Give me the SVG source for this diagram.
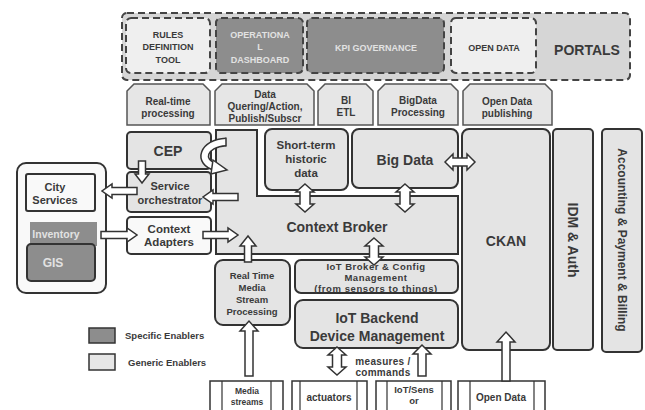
<svg xmlns="http://www.w3.org/2000/svg" width="645" height="410" viewBox="0 0 645 410">
  <style>
    text { font-family: "Liberation Sans", Arial, sans-serif; font-weight: bold; fill: #3a3a3a; text-anchor: middle; }
    text.start { text-anchor: start; }
    .box { fill: #e4e4e4; stroke: #333; stroke-width: 2; }
    .white { fill: #f9f9f9; stroke: #333; stroke-width: 2; }
    .spec { fill: #8d8d8d; stroke: #333; stroke-width: 2; }
    .tab { fill: #e6e6e6; stroke: #555; stroke-width: 1.5; }
    .dash { stroke: #444; stroke-width: 2; stroke-dasharray: 7 4; }
    .arrow { fill: #fff; stroke: #333; stroke-width: 1.5; stroke-linejoin: miter; }
    .src { fill: #fff; stroke: #333; stroke-width: 1.5; }
    .light { fill: #e2e2e2; }
    .p9 { font-size: 9px; }
    .t10 { font-size: 10px; }
    .s11 { font-size: 11px; }
    .s14 { font-size: 14px; }
  </style>

  <!-- Portals layer -->
  <g id="portals">
    <rect x="122" y="13" width="508" height="67" rx="5" fill="#d6d6d6" class="dash"/>
    <text x="587" y="55" font-size="14">PORTALS</text>
  </g>
  <g id="rules-definition-tool">
    <rect x="126" y="18" width="84" height="55" rx="5" fill="#efefef" class="dash"/>
    <text class="p9" x="168" y="38">RULES</text>
    <text class="p9" x="168" y="50">DEFINITION</text>
    <text class="p9" x="168" y="63">TOOL</text>
  </g>
  <g id="operational-dashboard">
    <rect x="216" y="18" width="87" height="55" rx="5" fill="#8d8d8d" class="dash"/>
    <text class="p9 light" x="260" y="38">OPERATIONA</text>
    <text class="p9 light" x="260" y="50">L</text>
    <text class="p9 light" x="260" y="63">DASHBOARD</text>
  </g>
  <g id="kpi-governance">
    <rect x="307" y="18" width="137" height="55" rx="5" fill="#8d8d8d" class="dash"/>
    <text class="p9 light" x="376" y="51">KPI GOVERNANCE</text>
  </g>
  <g id="open-data-portal">
    <rect x="451" y="18" width="85" height="55" rx="5" fill="#efefef" class="dash"/>
    <text class="p9" x="494" y="51">OPEN DATA</text>
  </g>

  <!-- Processing tabs -->
  <g id="realtime-processing">
    <path class="tab" d="M127,125 V91 L134,84 H203 L210,91 V125 Z"/>
    <text class="t10" x="168" y="105">Real-time</text>
    <text class="t10" x="168" y="117">processing</text>
  </g>
  <g id="data-querying">
    <path class="tab" d="M215,125 V91 L222,84 H307 L314,91 V125 Z"/>
    <text class="t10" x="265" y="98">Data</text>
    <text class="t10" x="265" y="110">Quering/Action,</text>
    <text class="t10" x="265" y="122">Publish/Subscr</text>
  </g>
  <g id="bi-etl">
    <path class="tab" d="M318,125 V91 L325,84 H366 L373,91 V125 Z"/>
    <text class="t10" x="346" y="104">BI</text>
    <text class="t10" x="346" y="116">ETL</text>
  </g>
  <g id="bigdata-processing">
    <path class="tab" d="M378,125 V91 L385,84 H451 L458,91 V125 Z"/>
    <text class="t10" x="418" y="104">BigData</text>
    <text class="t10" x="418" y="116">Processing</text>
  </g>
  <g id="open-data-publishing">
    <path class="tab" d="M463,125 V91 L470,84 H545 L552,91 V125 Z"/>
    <text class="t10" x="507" y="105">Open Data</text>
    <text class="t10" x="507" y="117">publishing</text>
  </g>

  <!-- Core enablers -->
  <g id="context-broker">
    <path class="box" d="M216,130 H257 V196 H458 V254 H216 Z"/>
    <text class="s14" x="337" y="232">Context Broker</text>
  </g>
  <g id="short-term-historic">
    <rect class="box" x="265" y="129" width="83" height="61" rx="7"/>
    <text font-size="11.5" x="306" y="149">Short-term</text>
    <text font-size="11.5" x="306" y="163">historic</text>
    <text font-size="11.5" x="306" y="177">data</text>
  </g>
  <g id="big-data">
    <rect class="box" x="352" y="129" width="106" height="59" rx="7"/>
    <text class="s14" x="405" y="165">Big Data</text>
  </g>
  <g id="cep">
    <rect class="box" x="127" y="132" width="84" height="37" rx="4"/>
    <text class="s14" x="168" y="156">CEP</text>
  </g>
  <g id="service-orchestrator">
    <rect class="box" x="127" y="172" width="84" height="40" rx="4"/>
    <text class="s11" x="170" y="190">Service</text>
    <text class="s11" x="170" y="204">orchestrator</text>
  </g>
  <g id="context-adapters">
    <rect class="white" x="127" y="217" width="84" height="37" rx="4"/>
    <text font-size="11.5" x="169" y="233">Context</text>
    <text font-size="11.5" x="169" y="246">Adapters</text>
  </g>
  <g id="city-systems">
    <rect class="white" x="17" y="163" width="89" height="130" rx="9"/>
  </g>
  <g id="city-services">
    <rect class="white" x="26" y="174" width="69" height="37" rx="2"/>
    <text class="s11" x="55" y="191">City</text>
    <text class="s11" x="55" y="204">Services</text>
  </g>
  <g id="inventory">
    <rect x="30" y="222" width="67" height="24" fill="#8d8d8d"/>
    <text font-size="10.5" class="light" x="56" y="238">Inventory</text>
  </g>
  <g id="gis">
    <rect class="spec" x="27" y="244" width="68" height="37" rx="4"/>
    <text font-size="12" class="light" x="53" y="267">GIS</text>
  </g>
  <g id="rt-media-stream">
    <rect class="box" x="215" y="260" width="75" height="65" rx="8"/>
    <text font-size="9.5" x="252" y="279">Real Time</text>
    <text font-size="9.5" x="252" y="291">Media</text>
    <text font-size="9.5" x="252" y="303">Stream</text>
    <text font-size="9.5" x="252" y="315">Processing</text>
  </g>
  <g id="iot-broker">
    <rect class="box" x="295" y="260" width="163" height="33" rx="6"/>
    <text x="376" y="270" font-size="9.5" font-weight="normal" letter-spacing="0.5">IoT Broker &amp; Config</text>
    <text x="376" y="281" font-size="9.5" font-weight="normal" letter-spacing="0.5">Management</text>
    <text x="376" y="292" font-size="9.5" font-weight="normal" letter-spacing="0.6">(from sensors to things)</text>
  </g>
  <g id="iot-backend">
    <rect class="box" x="295" y="300" width="163" height="48" rx="8"/>
    <text class="s14" x="377" y="323">IoT Backend</text>
    <text class="s14" x="377" y="341">Device Management</text>
  </g>
  <g id="ckan">
    <rect class="box" x="462" y="129" width="88" height="221" rx="7"/>
    <text class="s14" x="506" y="246">CKAN</text>
  </g>
  <g id="idm-auth">
    <rect class="box" x="553" y="129" width="40" height="221" rx="4"/>
    <text class="s14" transform="translate(568,240) rotate(90)">IDM &amp; Auth</text>
  </g>
  <g id="accounting">
    <rect class="box" x="602" y="129" width="40" height="223" rx="4"/>
    <text font-size="12" transform="translate(618,240) rotate(90)">Accounting &amp; Payment &amp; Billing</text>
  </g>

  <!-- Data sources -->
  <g id="media-streams">
    <rect class="src" x="210" y="381" width="73" height="32"/>
    <path d="M222,381 V413 M271,381 V413" stroke="#333" stroke-width="1.2"/>
    <text font-size="8.5" x="247" y="394">Media</text>
    <text font-size="8.5" x="247" y="405">streams</text>
  </g>
  <g id="actuators">
    <rect class="src" x="292" y="381" width="75" height="32"/>
    <path d="M300,381 V413 M357,381 V413" stroke="#333" stroke-width="1.2"/>
    <text class="t10" x="329" y="401">actuators</text>
  </g>
  <g id="iot-sensor">
    <rect class="src" x="376" y="381" width="75" height="32"/>
    <path d="M387,381 V413 M442,381 V413" stroke="#333" stroke-width="1.2"/>
    <text font-size="9.5" x="414" y="393">IoT/Sens</text>
    <text font-size="9.5" x="414" y="404">or</text>
  </g>
  <g id="open-data-source">
    <rect class="src" x="458" y="381" width="87" height="32"/>
    <path d="M470,381 V413 M534,381 V413" stroke="#333" stroke-width="1.2"/>
    <text class="t10" x="501" y="401">Open Data</text>
  </g>

  <!-- Legend -->
  <g id="legend">
    <rect x="89" y="328" width="26" height="15" fill="#8d8d8d" stroke="#333" stroke-width="1.5"/>
    <text class="start" font-size="9.5" x="125" y="339">Specific Enablers</text>
    <rect x="89" y="354" width="26" height="16" fill="#e6e6e6" stroke="#333" stroke-width="1.5"/>
    <text class="start" font-size="9.5" x="128" y="366">Generic Enablers</text>
  </g>

  <!-- Connectors -->
  <g id="connectors">
    <!-- CEP loop back into the broker -->
    <path d="M226,142 C203,143 197,162 216,167" fill="none" stroke="#333" stroke-width="9"/>
    <path d="M226,142 C203,143 197,162 216,167" fill="none" stroke="#fff" stroke-width="6"/>
    <polygon class="arrow" points="213,160 227,170 211,174"/>
    <line x1="226" y1="137.5" x2="226" y2="146.5" stroke="#333" stroke-width="1.5"/>
    <!-- CEP to orchestrator -->
    <polygon class="arrow" points="138.5,161 145.5,161 145.5,174 149,174 142,183 135,174 138.5,174"/>
    <!-- orchestrator to city services -->
    <polygon class="arrow" points="137,187.5 112,187.5 112,184 102,191 112,198 112,194.5 137,194.5"/>
    <!-- broker to orchestrator -->
    <polygon class="arrow" points="238,193.5 213,193.5 213,190 203,197 213,204 213,200.5 238,200.5"/>
    <!-- city systems to context adapters -->
    <polygon class="arrow" points="101,231.5 127,231.5 127,228 137,235 127,242 127,238.5 101,238.5"/>
    <!-- context adapters to broker -->
    <polygon class="arrow" points="203,231.5 228,231.5 228,228 238,235 228,242 228,238.5 203,238.5"/>
    <!-- media processing to broker -->
    <polygon class="arrow" points="244.5,262 244.5,246 240,246 248,236 256,246 251.5,246 251.5,262"/>
    <!-- media streams to media processing -->
    <polygon class="arrow" points="245,376 245,331 240,331 249,321 258,331 253,331 253,376"/>
    <!-- short-term data <-> broker -->
    <polygon class="arrow" points="305,184 314,192 310,192 310,204 314,204 305,212 296,204 300,204 300,192 296,192"/>
    <!-- big data <-> broker -->
    <polygon class="arrow" points="405,184 414,192 410,192 410,204 414,204 405,212 396,204 400,204 400,192 396,192"/>
    <!-- big data <-> CKAN -->
    <polygon class="arrow" points="445,162 453,154 453,158 467,158 467,154 475,162 467,170 467,166 453,166 453,170"/>
    <!-- broker <-> IoT broker -->
    <polygon class="arrow" points="374,238 383,246 378.5,246 378.5,257 383,257 374,265 365,257 369.5,257 369.5,246 365,246"/>
    <!-- IoT backend <-> actuators -->
    <polygon class="arrow" points="337,347 346,355 341.5,355 341.5,367 346,367 337,375 328,367 332.5,367 332.5,355 328,355"/>
    <!-- sensors to IoT backend -->
    <polygon class="arrow" points="418,376 418,354 413,354 422,345 431,354 426,354 426,376"/>
    <!-- open data to CKAN -->
    <polygon class="arrow" points="502,381 502,342 497,342 506,332 515,342 510,342 510,381"/>
    <text x="383" y="365" font-size="10" letter-spacing="0.3">measures /</text>
    <text x="383" y="376" font-size="10" letter-spacing="0.3">commands</text>
  </g>
</svg>
